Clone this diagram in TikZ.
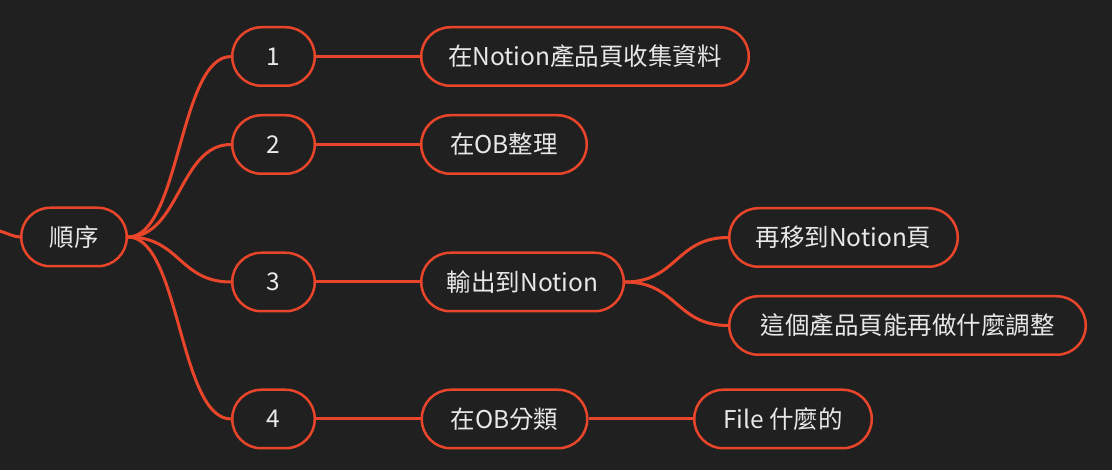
\documentclass[tikz,border=0pt]{standalone}
\usepackage{fontspec}
\setmainfont{Noto Sans CJK TC}
\usetikzlibrary{positioning}
\definecolor{bgdark}{HTML}{202020}
\definecolor{branch}{HTML}{E8452B}
\definecolor{txtgray}{HTML}{E8E8E8}

\begin{document}
\begin{tikzpicture}[x=1pt,y=-1pt,
	topic/.style={draw=branch,line width=2.5pt,fill=bgdark,text=txtgray,rounded corners=29pt,
		minimum height=58.5pt,inner sep=0pt,font=\fontsize{24.5}{28}\selectfont},
	link/.style={draw=branch,line width=3pt}]
	\fill[bgdark] (0,0) rectangle (1112,470);
	\useasboundingbox (0,0) rectangle (1112,470);
	\coordinate (in) at (-12,229);
	\node[topic,minimum width=105.5pt] (seq) at (74,237) {順序};
	\node[topic,minimum width=82.5pt] (n1) at (273.5,56.5) {1};
	\node[topic,minimum width=82.5pt] (n2) at (273.5,144.5) {2};
	\node[topic,minimum width=82.5pt] (n3) at (273.5,282) {3};
	\node[topic,minimum width=82.5pt] (n4) at (273.5,419) {4};
	\node[topic,minimum width=327.5pt] (a1) at (585,56.5) {在Notion產品頁收集資料};
	\node[topic,minimum width=165.5pt] (a2) at (504,144.5) {在OB整理};
	\node[topic,minimum width=202.5pt] (a3) at (522.5,282) {輸出到Notion};
	\node[topic,minimum width=165.5pt] (a4) at (504.5,419) {在OB分類};
	\node[topic,minimum width=228.5pt] (b1) at (843.5,237.5) {再移到Notion頁};
	\node[topic,minimum width=356.5pt] (b2) at (907.5,325.5) {這個產品頁能再做什麼調整};
	\node[topic,minimum width=177.5pt] (c4) at (783,419) {File 什麼的};
	% branches
	\draw[link] (in) .. controls +(12,0) and +(-8,0) .. (seq.west);
	\foreach \k in {1,2,3,4}{
		\draw[link] (seq.east) .. controls +(52,0) and +(-52,0) .. (n\k.west);
		\draw[link] (n\k.east) -- (a\k.west);
	}
	\draw[link] (a3.east) .. controls +(52,0) and +(-52,0) .. (b1.west);
	\draw[link] (a3.east) .. controls +(52,0) and +(-52,0) .. (b2.west);
	\draw[link] (a4.east) -- (c4.west);
\end{tikzpicture}
\end{document}
